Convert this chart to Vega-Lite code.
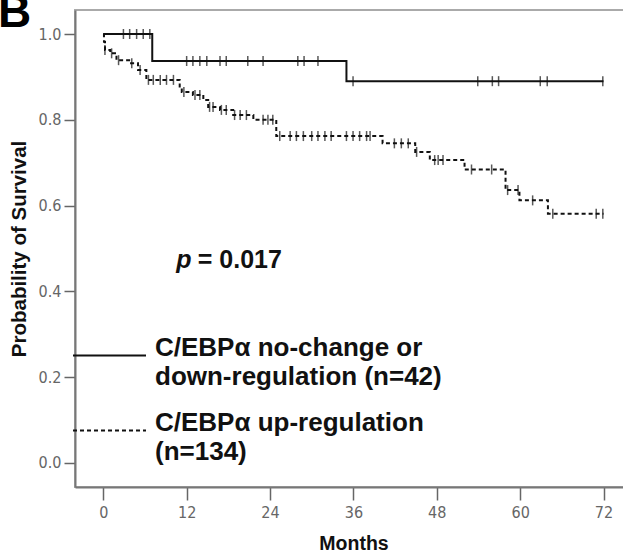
{
  "$schema": "https://vega.github.io/schema/vega-lite/v6.json",
  "width": 549,
  "height": 477,
  "autosize": {"type": "none"},
  "padding": {"left": 75, "top": 10, "right": 0, "bottom": 67},
  "background": "white",
  "title": {"text": "B", "fontSize": 46, "font": "Liberation Sans", "fontWeight": "bold", "anchor": "start", "frame": "group", "dx": -77, "offset": -27, "color": "#000"},
  "config": {
    "view": {"stroke": "#aaaaaa", "strokeWidth": 2},
    "axis": {
      "grid": false,
      "domainColor": "#777777",
      "domainWidth": 2,
      "tickColor": "#666666",
      "tickWidth": 1.5,
      "labelFont": "DejaVu Sans Condensed, Liberation Sans, sans-serif",
      "labelFontSize": 16,
      "labelColor": "#666666",
      "titleFont": "Liberation Sans",
      "titleFontWeight": "bold",
      "titleFontSize": 20.5,
      "titleColor": "#111111"
    }
  },
  "datasets": {
    "curves": [
      {"group": "C/EBPα no-change or down-regulation (n=42)", "t": 0, "s": 1.0},
      {"group": "C/EBPα no-change or down-regulation (n=42)", "t": 7.05, "s": 0.937},
      {"group": "C/EBPα no-change or down-regulation (n=42)", "t": 35.0, "s": 0.89},
      {"group": "C/EBPα no-change or down-regulation (n=42)", "t": 72.0, "s": 0.89},
      {"group": "C/EBPα up-regulation (n=134)", "t": 0, "s": 1.0},
      {"group": "C/EBPα up-regulation (n=134)", "t": 0.1, "s": 0.982},
      {"group": "C/EBPα up-regulation (n=134)", "t": 0.25, "s": 0.963},
      {"group": "C/EBPα up-regulation (n=134)", "t": 1.0, "s": 0.955},
      {"group": "C/EBPα up-regulation (n=134)", "t": 1.9, "s": 0.939},
      {"group": "C/EBPα up-regulation (n=134)", "t": 4.0, "s": 0.932},
      {"group": "C/EBPα up-regulation (n=134)", "t": 5.0, "s": 0.916},
      {"group": "C/EBPα up-regulation (n=134)", "t": 6.2, "s": 0.893},
      {"group": "C/EBPα up-regulation (n=134)", "t": 11.0, "s": 0.874},
      {"group": "C/EBPα up-regulation (n=134)", "t": 11.3, "s": 0.865},
      {"group": "C/EBPα up-regulation (n=134)", "t": 12.9, "s": 0.858},
      {"group": "C/EBPα up-regulation (n=134)", "t": 14.4, "s": 0.846},
      {"group": "C/EBPα up-regulation (n=134)", "t": 15.1, "s": 0.83},
      {"group": "C/EBPα up-regulation (n=134)", "t": 16.8, "s": 0.823},
      {"group": "C/EBPα up-regulation (n=134)", "t": 18.7, "s": 0.811},
      {"group": "C/EBPα up-regulation (n=134)", "t": 21.6, "s": 0.8},
      {"group": "C/EBPα up-regulation (n=134)", "t": 24.9, "s": 0.762},
      {"group": "C/EBPα up-regulation (n=134)", "t": 40.2, "s": 0.745},
      {"group": "C/EBPα up-regulation (n=134)", "t": 44.9, "s": 0.725},
      {"group": "C/EBPα up-regulation (n=134)", "t": 47.0, "s": 0.706},
      {"group": "C/EBPα up-regulation (n=134)", "t": 52.0, "s": 0.684},
      {"group": "C/EBPα up-regulation (n=134)", "t": 57.9, "s": 0.636},
      {"group": "C/EBPα up-regulation (n=134)", "t": 59.9, "s": 0.612},
      {"group": "C/EBPα up-regulation (n=134)", "t": 64.0, "s": 0.581},
      {"group": "C/EBPα up-regulation (n=134)", "t": 72.0, "s": 0.581}
    ],
    "censors": [
      {"group": "C/EBPα no-change or down-regulation (n=42)", "t": 2.9, "s": 1.0},
      {"group": "C/EBPα no-change or down-regulation (n=42)", "t": 3.8, "s": 1.0},
      {"group": "C/EBPα no-change or down-regulation (n=42)", "t": 4.8, "s": 1.0},
      {"group": "C/EBPα no-change or down-regulation (n=42)", "t": 5.75, "s": 1.0},
      {"group": "C/EBPα no-change or down-regulation (n=42)", "t": 6.7, "s": 1.0},
      {"group": "C/EBPα no-change or down-regulation (n=42)", "t": 12.0, "s": 0.937},
      {"group": "C/EBPα no-change or down-regulation (n=42)", "t": 12.9, "s": 0.937},
      {"group": "C/EBPα no-change or down-regulation (n=42)", "t": 13.9, "s": 0.937},
      {"group": "C/EBPα no-change or down-regulation (n=42)", "t": 14.9, "s": 0.937},
      {"group": "C/EBPα no-change or down-regulation (n=42)", "t": 16.8, "s": 0.937},
      {"group": "C/EBPα no-change or down-regulation (n=42)", "t": 17.7, "s": 0.937},
      {"group": "C/EBPα no-change or down-regulation (n=42)", "t": 20.8, "s": 0.937},
      {"group": "C/EBPα no-change or down-regulation (n=42)", "t": 23.0, "s": 0.937},
      {"group": "C/EBPα no-change or down-regulation (n=42)", "t": 28.0, "s": 0.937},
      {"group": "C/EBPα no-change or down-regulation (n=42)", "t": 28.9, "s": 0.937},
      {"group": "C/EBPα no-change or down-regulation (n=42)", "t": 30.9, "s": 0.937},
      {"group": "C/EBPα no-change or down-regulation (n=42)", "t": 35.95, "s": 0.89},
      {"group": "C/EBPα no-change or down-regulation (n=42)", "t": 53.9, "s": 0.89},
      {"group": "C/EBPα no-change or down-regulation (n=42)", "t": 56.0, "s": 0.89},
      {"group": "C/EBPα no-change or down-regulation (n=42)", "t": 56.9, "s": 0.89},
      {"group": "C/EBPα no-change or down-regulation (n=42)", "t": 62.9, "s": 0.89},
      {"group": "C/EBPα no-change or down-regulation (n=42)", "t": 63.9, "s": 0.89},
      {"group": "C/EBPα no-change or down-regulation (n=42)", "t": 71.9, "s": 0.89},
      {"group": "C/EBPα up-regulation (n=134)", "t": 0.24, "s": 0.963},
      {"group": "C/EBPα up-regulation (n=134)", "t": 1.2, "s": 0.955},
      {"group": "C/EBPα up-regulation (n=134)", "t": 2.2, "s": 0.939},
      {"group": "C/EBPα up-regulation (n=134)", "t": 4.1, "s": 0.932},
      {"group": "C/EBPα up-regulation (n=134)", "t": 5.3, "s": 0.916},
      {"group": "C/EBPα up-regulation (n=134)", "t": 6.5, "s": 0.893},
      {"group": "C/EBPα up-regulation (n=134)", "t": 7.2, "s": 0.893},
      {"group": "C/EBPα up-regulation (n=134)", "t": 8.2, "s": 0.893},
      {"group": "C/EBPα up-regulation (n=134)", "t": 9.1, "s": 0.893},
      {"group": "C/EBPα up-regulation (n=134)", "t": 10.1, "s": 0.893},
      {"group": "C/EBPα up-regulation (n=134)", "t": 11.6, "s": 0.865},
      {"group": "C/EBPα up-regulation (n=134)", "t": 13.2, "s": 0.858},
      {"group": "C/EBPα up-regulation (n=134)", "t": 13.9, "s": 0.858},
      {"group": "C/EBPα up-regulation (n=134)", "t": 15.3, "s": 0.83},
      {"group": "C/EBPα up-regulation (n=134)", "t": 15.8, "s": 0.83},
      {"group": "C/EBPα up-regulation (n=134)", "t": 17.0, "s": 0.823},
      {"group": "C/EBPα up-regulation (n=134)", "t": 17.7, "s": 0.823},
      {"group": "C/EBPα up-regulation (n=134)", "t": 18.9, "s": 0.811},
      {"group": "C/EBPα up-regulation (n=134)", "t": 19.7, "s": 0.811},
      {"group": "C/EBPα up-regulation (n=134)", "t": 20.6, "s": 0.811},
      {"group": "C/EBPα up-regulation (n=134)", "t": 23.0, "s": 0.8},
      {"group": "C/EBPα up-regulation (n=134)", "t": 23.7, "s": 0.8},
      {"group": "C/EBPα up-regulation (n=134)", "t": 24.4, "s": 0.8},
      {"group": "C/EBPα up-regulation (n=134)", "t": 25.4, "s": 0.762},
      {"group": "C/EBPα up-regulation (n=134)", "t": 26.9, "s": 0.762},
      {"group": "C/EBPα up-regulation (n=134)", "t": 27.8, "s": 0.762},
      {"group": "C/EBPα up-regulation (n=134)", "t": 28.8, "s": 0.762},
      {"group": "C/EBPα up-regulation (n=134)", "t": 30.0, "s": 0.762},
      {"group": "C/EBPα up-regulation (n=134)", "t": 30.9, "s": 0.762},
      {"group": "C/EBPα up-regulation (n=134)", "t": 31.9, "s": 0.762},
      {"group": "C/EBPα up-regulation (n=134)", "t": 32.8, "s": 0.762},
      {"group": "C/EBPα up-regulation (n=134)", "t": 35.0, "s": 0.762},
      {"group": "C/EBPα up-regulation (n=134)", "t": 35.95, "s": 0.762},
      {"group": "C/EBPα up-regulation (n=134)", "t": 36.9, "s": 0.762},
      {"group": "C/EBPα up-regulation (n=134)", "t": 37.9, "s": 0.762},
      {"group": "C/EBPα up-regulation (n=134)", "t": 38.4, "s": 0.762},
      {"group": "C/EBPα up-regulation (n=134)", "t": 41.9, "s": 0.745},
      {"group": "C/EBPα up-regulation (n=134)", "t": 42.9, "s": 0.745},
      {"group": "C/EBPα up-regulation (n=134)", "t": 43.9, "s": 0.745},
      {"group": "C/EBPα up-regulation (n=134)", "t": 45.1, "s": 0.725},
      {"group": "C/EBPα up-regulation (n=134)", "t": 47.7, "s": 0.706},
      {"group": "C/EBPα up-regulation (n=134)", "t": 48.2, "s": 0.706},
      {"group": "C/EBPα up-regulation (n=134)", "t": 48.9, "s": 0.706},
      {"group": "C/EBPα up-regulation (n=134)", "t": 53.0, "s": 0.684},
      {"group": "C/EBPα up-regulation (n=134)", "t": 55.9, "s": 0.684},
      {"group": "C/EBPα up-regulation (n=134)", "t": 58.2, "s": 0.636},
      {"group": "C/EBPα up-regulation (n=134)", "t": 59.7, "s": 0.636},
      {"group": "C/EBPα up-regulation (n=134)", "t": 61.8, "s": 0.612},
      {"group": "C/EBPα up-regulation (n=134)", "t": 64.7, "s": 0.581},
      {"group": "C/EBPα up-regulation (n=134)", "t": 70.95, "s": 0.581},
      {"group": "C/EBPα up-regulation (n=134)", "t": 71.9, "s": 0.581}
    ],
    "notes": [
      {"part": "p"},
      {"part": "= 0.017"}
    ]
  },
  "layer": [
    {
      "data": {"name": "curves"},
      "mark": {"type": "line", "interpolate": "step-after", "color": "#111111", "strokeWidth": 2},
      "encoding": {
        "x": {
          "field": "t", "type": "quantitative",
          "scale": {"domain": [-4.07, 74.95], "nice": false, "zero": false},
          "axis": {"title": "Months", "values": [0, 12, 24, 36, 48, 60, 72], "tickSize": 13, "labelPadding": 4, "titlePadding": 14, "titleX": 278.5, "titleFontSize": 19.5}
        },
        "y": {
          "field": "s", "type": "quantitative",
          "scale": {"domain": [-0.0565, 1.056], "nice": false, "zero": false},
          "axis": {"title": "Probability of Survival", "values": [0, 0.2, 0.4, 0.6, 0.8, 1.0], "format": ".1f", "tickSize": 11, "labelPadding": 3, "titlePadding": 9}
        },
        "strokeDash": {
          "field": "group", "type": "nominal",
          "scale": {"domain": ["C/EBPα no-change or down-regulation (n=42)", "C/EBPα up-regulation (n=134)"], "range": [[1, 0], [4, 3]]},
          "legend": {
            "title": null,
            "orient": "none",
            "legendX": -3,
            "legendY": 308,
            "padding": 0,
            "symbolType": "stroke",
            "symbolSize": 5329,
            "symbolStrokeWidth": 2,
            "symbolStrokeColor": "#111111",
            "labelFont": "Liberation Sans",
            "labelFontSize": 26,
            "labelFontWeight": "bold",
            "labelColor": "#111111",
            "labelBaseline": "alphabetic",
            "labelLimit": 0,
            "labelOffset": 8,
            "rowPadding": 3,
            "labelExpr": "datum.label == 'C/EBPα up-regulation (n=134)' ? ['C/EBPα up-regulation', '(n=134)'] : ['C/EBPα no-change or', 'down-regulation (n=42)']",
            "encode": {
              "labels": {"update": {"lineHeight": {"value": 29}}}
            }
          }
        }
      }
    },
    {
      "data": {"name": "censors"},
      "mark": {"type": "tick", "orient": "vertical", "size": 10, "thickness": 1.5, "color": "#111111"},
      "encoding": {
        "x": {"field": "t", "type": "quantitative"},
        "y": {"field": "s", "type": "quantitative"},
        "strokeDash": {"field": "group", "type": "nominal"}
      }
    },
    {
      "data": {"name": "notes"},
      "transform": [{"filter": "datum.part == 'p'"}],
      "mark": {"type": "text", "font": "Liberation Sans", "fontSize": 25, "fontWeight": "bold", "fontStyle": "italic", "align": "left", "baseline": "alphabetic", "color": "#111111"},
      "encoding": {"x": {"datum": 10.5}, "y": {"datum": 0.455}, "text": {"field": "part"}}
    },
    {
      "data": {"name": "notes"},
      "transform": [{"filter": "datum.part != 'p'"}],
      "mark": {"type": "text", "font": "Liberation Sans", "fontSize": 25, "fontWeight": "bold", "align": "left", "baseline": "alphabetic", "color": "#111111"},
      "encoding": {"x": {"datum": 13.6}, "y": {"datum": 0.455}, "text": {"field": "part"}}
    }
  ]
}
